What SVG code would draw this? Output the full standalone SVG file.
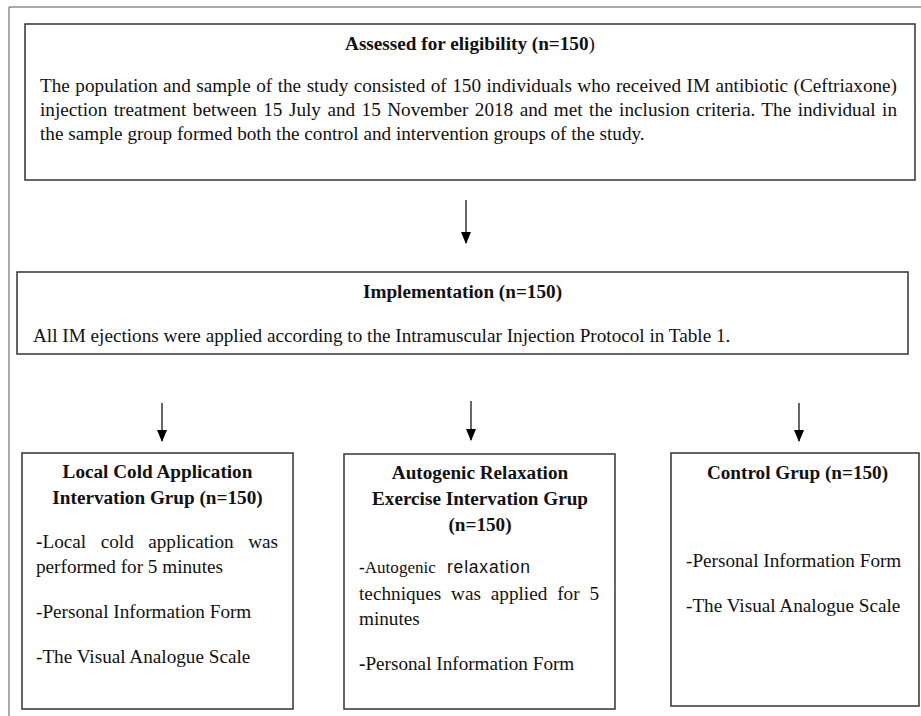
<svg xmlns="http://www.w3.org/2000/svg" width="921" height="716" viewBox="0 0 921 716">
<defs>
<marker id="ah" markerWidth="12" markerHeight="10" refX="11" refY="5" orient="auto" markerUnits="userSpaceOnUse" viewBox="0 0 12 10">
<path d="M0,0 L12,5 L0,10 Z" fill="#000"/>
</marker>
</defs>
<style>
.box{fill:#fff;stroke:#333;stroke-width:1.5}
.frame{fill:none;stroke:#555;stroke-width:1}
.t{font-family:"Liberation Serif","Times New Roman",serif;font-size:19.2px;fill:#111}
.b{font-family:"Liberation Serif","Times New Roman",serif;font-size:19.2px;font-weight:bold;fill:#111}
.s{font-family:"Liberation Sans",Arial,sans-serif;font-size:17.5px}
.c{text-anchor:middle}
.conn line{stroke:#000;stroke-width:1.2}
</style>
<rect width="921" height="716" fill="#fff"/>
<path class="frame" d="M9,716 L9,7 L921,7"/>
<g id="assessed">
<rect class="box" x="25" y="24" width="890" height="156"/>
<text class="b c" x="470" y="50">Assessed for eligibility (n=150<tspan font-weight="normal">)</tspan></text>
<text class="t" x="40" y="92" word-spacing="0.7" textLength="857" lengthAdjust="spacing">The population and sample of the study consisted of 150 individuals who received IM antibiotic (Ceftriaxone)</text>
<text class="t" x="40" y="116" word-spacing="1.65" textLength="857" lengthAdjust="spacing">injection treatment between 15 July and 15 November 2018 and met the inclusion criteria. The individual in</text>
<text class="t" x="40" y="140">the sample group formed both the control and intervention groups of the study.</text>
</g>
<g id="implementation">
<rect class="box" x="17" y="272" width="891" height="82"/>
<text class="b c" x="462.5" y="298">Implementation (n=150)</text>
<text class="t" x="33" y="342">All IM ejections were applied according to the Intramuscular Injection Protocol in Table 1.</text>
</g>
<g id="local-cold">
<rect class="box" x="22" y="453" width="271" height="256"/>
<text class="b c" x="157.5" y="478">Local Cold Application</text>
<text class="b c" x="157.5" y="504">Intervation Grup (n=150)</text>
<text class="t" x="36" y="548" word-spacing="9.7" textLength="242" lengthAdjust="spacing"><tspan font-weight="bold">-</tspan>Local cold application was</text>
<text class="t" x="36" y="573">performed for 5 minutes</text>
<text class="t" x="36" y="618">-Personal Information Form</text>
<text class="t" x="36" y="663">-The Visual Analogue Scale</text>
</g>
<g id="autogenic">
<rect class="box" x="344" y="454" width="271" height="255"/>
<text class="b c" x="480" y="479">Autogenic Relaxation</text>
<text class="b c" x="480" y="505">Exercise Intervation Grup</text>
<text class="b c" x="480" y="531">(n=150)</text>
<text class="t" x="359" y="573" style="font-size:17.1px"><tspan font-weight="bold">-</tspan>Autogenic</text>
<text class="t s" x="447" y="573" textLength="83" lengthAdjust="spacing">relaxation</text>
<text class="t" x="359" y="600" word-spacing="5" textLength="240" lengthAdjust="spacing">techniques was applied for 5</text>
<text class="t" x="359" y="625">minutes</text>
<text class="t" x="359" y="670"><tspan font-weight="bold">-</tspan>Personal Information Form</text>
</g>
<g id="control">
<rect class="box" x="671" y="453" width="248" height="253"/>
<text class="b c" x="797.5" y="479">Control Grup (n=150)</text>
<text class="t" x="686" y="567">-Personal Information Form</text>
<text class="t" x="686" y="612">-The Visual Analogue Scale</text>
</g>
<g class="conn" id="connectors">
<line x1="466" y1="200" x2="466" y2="243" marker-end="url(#ah)"/>
<line x1="162" y1="403" x2="162" y2="441" marker-end="url(#ah)"/>
<line x1="471" y1="401" x2="471" y2="440" marker-end="url(#ah)"/>
<line x1="799" y1="403" x2="799" y2="441" marker-end="url(#ah)"/>
</g>
</svg>
